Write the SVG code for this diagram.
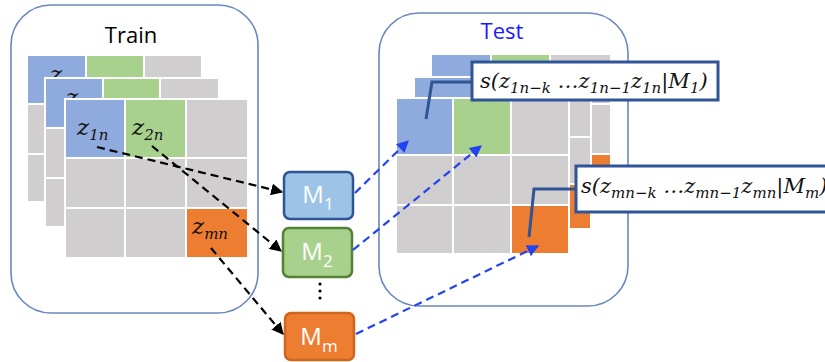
<svg xmlns="http://www.w3.org/2000/svg" width="825" height="362" viewBox="0 0 825 362">
  <style>
    .frame { fill: #fff; stroke: #6A88BE; stroke-width: 1.6; }
    .title { font-family: "Open Sans", "Liberation Sans", sans-serif; font-size: 22px; text-anchor: middle; }
    .c { stroke: #fff; stroke-width: 2; }
    .b { fill: #8FAADC; }
    .g { fill: #A9D18E; }
    .n { fill: #D0CECE; }
    .o { fill: #ED7D31; }
    .math { font-family: "DejaVu Serif", "Liberation Serif", serif; font-style: italic; font-size: 21px; fill: #111; }
    .zl { font-size: 23px; }
    .sub { font-size: 15px; }
    .callout { fill: #fff; stroke: #2F5597; stroke-width: 3; }
    .leader { fill: none; stroke: #2F5597; stroke-width: 3; }
    .model { stroke-width: 2.5; }
    .mlabel { font-family: "Open Sans", "Liberation Sans", sans-serif; font-size: 24px; fill: #fff; text-anchor: middle; }
    .msub { font-size: 17px; }
    .blk { fill: none; stroke: #000; stroke-width: 2.2; stroke-dasharray: 8 5; }
    .blu { fill: none; stroke: #2342F2; stroke-width: 2.2; stroke-dasharray: 8 5; }
  </style>
  <defs>
    <marker id="ah-black" viewBox="0 0 10 10" refX="9" refY="5" markerWidth="5.5" markerHeight="5.5" orient="auto" markerUnits="strokeWidth">
      <path d="M0,0 L10,5 L0,10 z" fill="#000"/>
    </marker>
    <marker id="ah-blue" viewBox="0 0 10 10" refX="9" refY="5" markerWidth="5.5" markerHeight="5.5" orient="auto" markerUnits="strokeWidth">
      <path d="M0,0 L10,5 L0,10 z" fill="#2342F2"/>
    </marker>
  </defs>

  <!-- Training panel -->
  <g id="train">
    <rect class="frame" x="11" y="5" width="247" height="308" rx="40"/>
    <text class="title" x="131" y="43">Train</text>
    <!-- back grid -->
    <g id="train-grid-1">
      <rect class="c b" x="27" y="55" width="59" height="49"/>
      <rect class="c g" x="86" y="55" width="58" height="49"/>
      <rect class="c n" x="144" y="55" width="58" height="49"/>
      <rect class="c n" x="27" y="104" width="59" height="50"/>
      <rect class="c n" x="86" y="104" width="58" height="50"/>
      <rect class="c n" x="144" y="104" width="58" height="50"/>
      <rect class="c n" x="27" y="154" width="59" height="48"/>
      <rect class="c n" x="86" y="154" width="58" height="48"/>
      <rect class="c n" x="144" y="154" width="58" height="48"/>
      <text class="math zl" x="50" y="82">z</text>
    </g>
    <!-- middle grid -->
    <g id="train-grid-2">
      <rect class="c b" x="45" y="78" width="58" height="50"/>
      <rect class="c g" x="103" y="78" width="57" height="50"/>
      <rect class="c n" x="160" y="78" width="59" height="50"/>
      <rect class="c n" x="45" y="128" width="58" height="50"/>
      <rect class="c n" x="103" y="128" width="57" height="50"/>
      <rect class="c n" x="160" y="128" width="59" height="50"/>
      <rect class="c n" x="45" y="178" width="58" height="49"/>
      <rect class="c n" x="103" y="178" width="57" height="49"/>
      <rect class="c n" x="160" y="178" width="59" height="49"/>
      <text class="math zl" x="66" y="105">z</text>
    </g>
    <!-- front grid -->
    <g id="train-grid-3">
      <rect class="c b" x="65" y="99" width="60" height="59"/>
      <rect class="c g" x="125" y="99" width="61" height="59"/>
      <rect class="c n" x="186" y="99" width="62" height="59"/>
      <rect class="c n" x="65" y="158" width="60" height="50"/>
      <rect class="c n" x="125" y="158" width="61" height="50"/>
      <rect class="c n" x="186" y="158" width="62" height="50"/>
      <rect class="c n" x="65" y="208" width="60" height="50"/>
      <rect class="c n" x="125" y="208" width="61" height="50"/>
      <rect class="c o" x="186" y="208" width="62" height="50"/>
      <text class="math zl" x="77" y="135">z<tspan class="sub" dy="5">1n</tspan></text>
      <text class="math zl" x="132" y="135">z<tspan class="sub" dy="5">2n</tspan></text>
      <text class="math zl" x="192" y="234">z<tspan class="sub" dy="5">mn</tspan></text>
    </g>
  </g>

  <!-- Test panel -->
  <g id="test">
    <rect class="frame" x="379" y="13" width="249" height="293" rx="40"/>
    <text class="title" x="502" y="39" fill="#1A1AFF">Test</text>
    <g id="test-grid-1">
      <rect class="c b" x="431" y="54" width="60" height="50"/>
      <rect class="c g" x="491" y="54" width="59" height="50"/>
      <rect class="c n" x="550" y="54" width="61" height="50"/>
      <rect class="c n" x="431" y="104" width="60" height="50"/>
      <rect class="c n" x="491" y="104" width="59" height="50"/>
      <rect class="c n" x="550" y="104" width="61" height="50"/>
      <rect class="c n" x="431" y="154" width="60" height="51"/>
      <rect class="c n" x="491" y="154" width="59" height="51"/>
      <rect class="c o" x="550" y="154" width="61" height="51"/>
    </g>
    <g id="test-grid-2">
      <rect class="c b" x="414" y="77" width="59" height="60"/>
      <rect class="c g" x="473" y="77" width="59" height="60"/>
      <rect class="c n" x="532" y="77" width="59" height="60"/>
      <rect class="c n" x="414" y="137" width="59" height="47"/>
      <rect class="c n" x="473" y="137" width="59" height="47"/>
      <rect class="c n" x="532" y="137" width="59" height="47"/>
      <rect class="c n" x="414" y="184" width="59" height="45"/>
      <rect class="c n" x="473" y="184" width="59" height="45"/>
      <rect class="c o" x="532" y="184" width="59" height="45"/>
    </g>
    <g id="test-grid-3">
      <rect class="c b" x="396" y="98" width="57" height="57"/>
      <rect class="c g" x="453" y="98" width="58" height="57"/>
      <rect class="c n" x="511" y="98" width="58" height="57"/>
      <rect class="c n" x="396" y="155" width="57" height="50"/>
      <rect class="c n" x="453" y="155" width="58" height="50"/>
      <rect class="c n" x="511" y="155" width="58" height="50"/>
      <rect class="c n" x="396" y="205" width="57" height="49"/>
      <rect class="c n" x="453" y="205" width="58" height="49"/>
      <rect class="c o" x="511" y="205" width="58" height="49"/>
    </g>
  </g>

  <!-- Score callouts -->
  <g id="callout-1">
    <polyline class="leader" points="472,82 432,82 426,119"/>
    <rect class="callout" x="472" y="62" width="246" height="38"/>
    <text class="math" x="480" y="88">s(z<tspan class="sub" dy="5">1n−k</tspan><tspan dy="-5"> …z</tspan><tspan class="sub" dy="5">1n−1</tspan><tspan dy="-5">z</tspan><tspan class="sub" dy="5">1n</tspan><tspan dy="-5">|M</tspan><tspan class="sub" dy="5">1</tspan><tspan dy="-5">)</tspan></text>
  </g>
  <g id="callout-m">
    <polyline class="leader" points="576,189 534,189 529,237"/>
    <rect class="callout" x="576" y="166" width="260" height="46"/>
    <text class="math" x="581" y="193">s(z<tspan class="sub" dy="5">mn−k</tspan><tspan dy="-5"> …z</tspan><tspan class="sub" dy="5">mn−1</tspan><tspan dy="-5">z</tspan><tspan class="sub" dy="5">mn</tspan><tspan dy="-5">|M</tspan><tspan class="sub" dy="5">m</tspan><tspan dy="-5">)</tspan></text>
  </g>

  <!-- Models -->
  <g id="model-1">
    <rect class="model" x="284" y="172" width="69" height="47" rx="6" fill="#9DC3E6" stroke="#2F5597"/>
    <text class="mlabel" x="318" y="203">M<tspan class="msub" dy="7">1</tspan></text>
  </g>
  <g id="model-2">
    <rect class="model" x="283" y="228" width="69" height="49" rx="6" fill="#A9D18E" stroke="#548235"/>
    <text class="mlabel" x="317" y="260">M<tspan class="msub" dy="7">2</tspan></text>
  </g>
  <g id="model-dots" fill="#000">
    <circle cx="320" cy="284" r="1.6"/>
    <circle cx="320" cy="291" r="1.6"/>
    <circle cx="320" cy="298" r="1.6"/>
  </g>
  <g id="model-m">
    <rect class="model" x="285" y="313" width="69" height="47" rx="6" fill="#ED7D31" stroke="#D0651C"/>
    <text class="mlabel" x="319" y="345">M<tspan class="msub" dy="7">m</tspan></text>
  </g>

  <!-- Connectors -->
  <g id="connectors">
    <line class="blk" x1="97" y1="147" x2="282" y2="192" marker-end="url(#ah-black)"/>
    <line class="blk" x1="152" y1="146" x2="281" y2="251" marker-end="url(#ah-black)"/>
    <line class="blk" x1="211" y1="248" x2="283" y2="334" marker-end="url(#ah-black)"/>
    <line class="blu" x1="355" y1="193" x2="408" y2="141" marker-end="url(#ah-blue)"/>
    <line class="blu" x1="353" y1="250" x2="481" y2="146" marker-end="url(#ah-blue)"/>
    <line class="blu" x1="356" y1="334" x2="538" y2="246" marker-end="url(#ah-blue)"/>
  </g>
</svg>
